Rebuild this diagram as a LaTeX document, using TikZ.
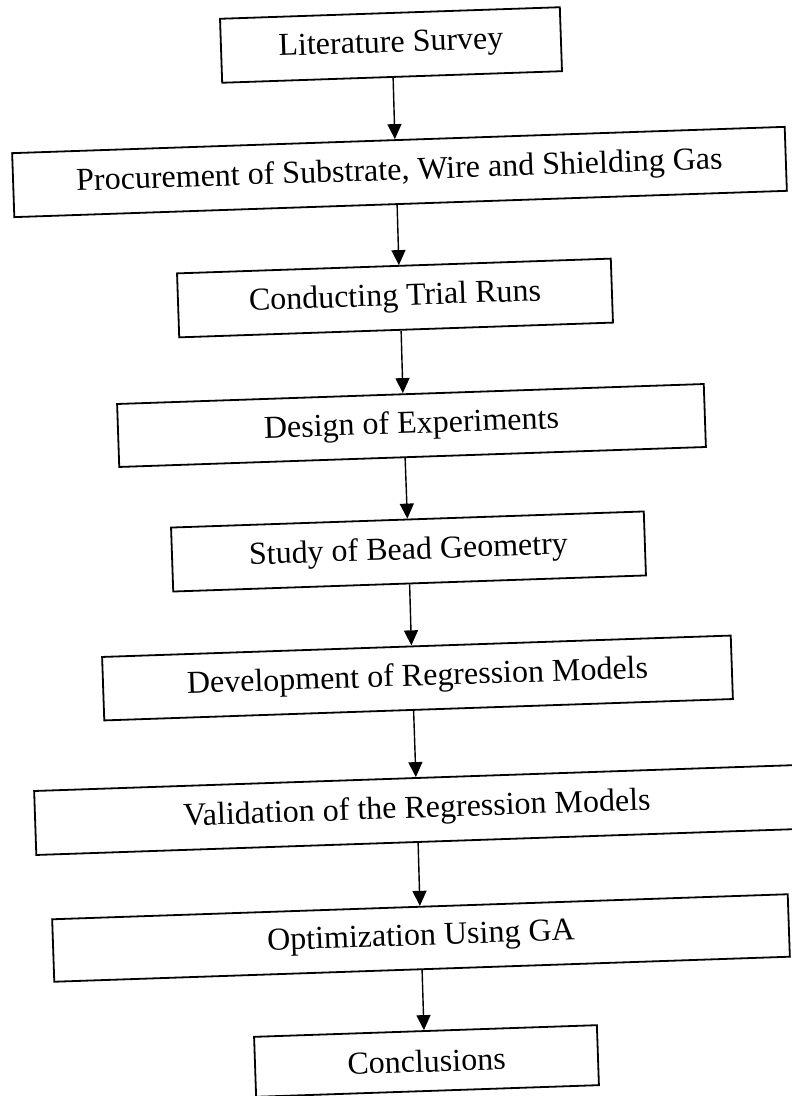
\documentclass[tikz,border=0pt]{standalone}
\usepackage{fontspec}
\setmainfont{Liberation Serif}
\usetikzlibrary{arrows.meta}
\begin{document}
\begin{tikzpicture}[x=1pt,y=1pt,
  stepbox/.style={draw=black, line width=1.8pt, inner sep=0pt, rotate=1.95,
    font=\fontsize{32}{38}\selectfont, anchor=center},
  flow/.style={draw=black, line width=1.4pt, -{Triangle[width=14pt,length=15pt]}}]
\useasboundingbox (0,0) rectangle (792,1096);
\fill[white] (0,0) rectangle (792,1096);
\node[stepbox, minimum width=340pt, minimum height=64pt] (b1) at (391,1051) {Literature Survey};
\node[stepbox, minimum width=773pt, minimum height=64pt] (b2) at (399.5,924) {Procurement of Substrate, Wire and Shielding Gas};
\node[stepbox, minimum width=434pt, minimum height=64pt] (b3) at (395,798) {Conducting Trial Runs};
\node[stepbox, minimum width=587pt, minimum height=63pt] (b4) at (411.5,670.5) {Design of Experiments};
\node[stepbox, minimum width=473pt, minimum height=64pt] (b5) at (408.5,544.5) {Study of Bead Geometry};
\node[stepbox, minimum width=629pt, minimum height=63.5pt] (b6) at (417.5,418) {Development of Regression Models};
\node[stepbox, minimum width=764pt, minimum height=64pt] (b7) at (417,286) {Validation of the Regression Models};
\node[stepbox, minimum width=736pt, minimum height=62.5pt] (b8) at (421,158) {Optimization Using GA};
\node[stepbox, minimum width=343pt, minimum height=60pt] (b9) at (426.5,35) {Conclusions};
\draw[flow] ([xshift=1pt]b1.south) -- ([xshift=-3.5pt]b2.north);
\draw[flow] ([xshift=-3.5pt]b2.south) -- ([xshift=5pt]b3.north);
\draw[flow] ([xshift=5pt]b3.south) -- ([xshift=-7.5pt]b4.north);
\draw[flow] ([xshift=-7.5pt]b4.south) -- (b5.north);
\draw[flow] (b5.south) -- ([xshift=-5pt]b6.north);
\draw[flow] ([xshift=-5pt]b6.south) -- (b7.north);
\draw[flow] (b7.south) -- (b8.north);
\draw[flow] (b8.south) -- ([xshift=-1.5pt]b9.north);
\end{tikzpicture}
\end{document}
